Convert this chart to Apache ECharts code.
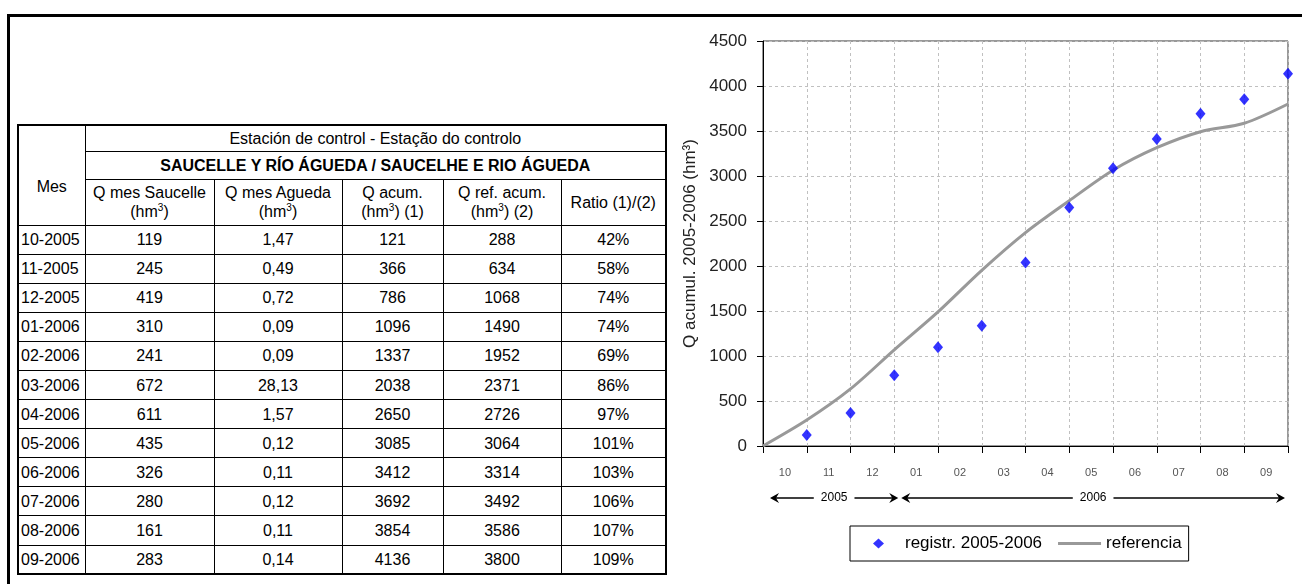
<!DOCTYPE html>
<html>
<head>
<meta charset="utf-8">
<script src="https://cdn.jsdelivr.net/npm/echarts@6.0.0/dist/echarts.min.js"></script>
<style>
  html, body { margin:0; padding:0; background:#fff; width:1302px; height:584px; overflow:hidden; }
  #chart { position:absolute; left:0; top:0; width:1302px; height:584px; }
  #frame { position:absolute; left:7px; top:14px; width:1400px; height:700px;
           border-top:3px solid #000; border-left:3px solid #000; pointer-events:none; }
  #tbl { position:absolute; left:17px; top:124px; width:648px; border-collapse:collapse;
         table-layout:fixed; border:2px solid #000; background:#fff;
         font-family:'Liberation Sans', Arial, sans-serif; font-size:16px; color:#000; z-index:2; }
  #tbl td { border:1px solid #000; padding:0; text-align:center; white-space:nowrap;
            line-height:19px; overflow:hidden; }
  #tbl td.m { text-align:left; padding-left:2px; }
  #tbl tr.d { height:29.1px; }
  #tbl sup { font-size:10px; line-height:0; vertical-align:6px; }
</style>
</head>
<body>
<div id="chart"></div>
<div id="frame"></div>
<table id="tbl"></table>
<script>
// ---- data ----
const months = ['10-2005','11-2005','12-2005','01-2006','02-2006','03-2006',
                '04-2006','05-2006','06-2006','07-2006','08-2006','09-2006'];
const qSaucelle = [119, 245, 419, 310, 241, 672, 611, 435, 326, 280, 161, 283];
const qAgueda = [1.47, 0.49, 0.72, 0.09, 0.09, 28.13, 1.57, 0.12, 0.11, 0.12, 0.11, 0.14];
const qAcum = [121, 366, 786, 1096, 1337, 2038, 2650, 3085, 3412, 3692, 3854, 4136];
const qRef = [288, 634, 1068, 1490, 1952, 2371, 2726, 3064, 3314, 3492, 3586, 3800];
const ratioPct = [42, 58, 74, 74, 69, 86, 97, 101, 103, 106, 107, 109];
const monthTicks = ['10','11','12','01','02','03','04','05','06','07','08','09'];
const refStart = 0;
const yMin = 0, yMax = 4500, yStep = 500;

// ---- table ----
const colW = [67, 129, 128, 101, 118, 105];
let html = '<colgroup>' + colW.map(w => '<col style="width:' + w + 'px">').join('') + '</colgroup>';
html += '<tr style="height:26px"><td rowspan="3" style="vertical-align:middle;padding-top:22px">Mes</td>' +
        '<td colspan="5">Estación de control - Estação do controlo</td></tr>';
html += '<tr style="height:28px"><td colspan="5" style="font-weight:bold">SAUCELLE Y RÍO ÁGUEDA / SAUCELHE E RIO ÁGUEDA</td></tr>';
html += '<tr style="height:46px">' +
        '<td>Q mes Saucelle<br>(hm<sup>3</sup>)</td>' +
        '<td>Q mes Agueda<br>(hm<sup>3</sup>)</td>' +
        '<td>Q acum.<br>(hm<sup>3</sup>) (1)</td>' +
        '<td>Q ref. acum.<br>(hm<sup>3</sup>) (2)</td>' +
        '<td>Ratio (1)/(2)</td></tr>';
months.forEach((m, i) => {
  html += '<tr class="d"><td class="m">' + m + '</td>' +
          '<td>' + qSaucelle[i] + '</td>' +
          '<td>' + qAgueda[i].toFixed(2).replace('.', ',') + '</td>' +
          '<td>' + qAcum[i] + '</td>' +
          '<td>' + qRef[i] + '</td>' +
          '<td>' + ratioPct[i] + '%</td></tr>';
});
document.getElementById('tbl').innerHTML = html;

// ---- chart ----
const FONT = "'Liberation Sans', Arial, sans-serif";
const chart = echarts.init(document.getElementById('chart'), null, { renderer: 'canvas' });
const gridLine = { show: true, lineStyle: { color: '#c0c0c0', type: [3, 3], width: 1 } };

const scatterData = qAcum.map((v, i) => [i + 1, v]);
const refData = [[0, refStart]].concat(qRef.map((v, i) => [i + 1, v]));

chart.setOption({
  animation: false,
  backgroundColor: 'transparent',
  grid: { left: 763, top: 41, right: 14, bottom: 138, show: true, borderColor: '#333', borderWidth: 1, containLabel: false },
  xAxis: [
    { type: 'value', min: 0, max: monthTicks.length, interval: 1,
      axisLine: { show: true, onZero: false, lineStyle: { color: '#000', width: 1 } },
      axisTick: { show: true, inside: false, length: 7, lineStyle: { color: '#000' } },
      axisLabel: { show: false },
      splitLine: gridLine },
    { type: 'category', data: monthTicks, boundaryGap: true, position: 'bottom',
      axisLine: { show: false }, axisTick: { show: false }, splitLine: { show: false },
      axisLabel: { show: true, margin: 21, fontSize: 11, color: '#555', fontFamily: FONT } }
  ],
  yAxis: {
    type: 'value', min: yMin, max: yMax, interval: yStep,
    name: 'Q acumul. 2005-2006 (hm³)', nameLocation: 'middle', nameGap: 64,
    nameTextStyle: { fontSize: 17, color: '#222', fontFamily: FONT },
    axisLine: { show: true, lineStyle: { color: '#000', width: 1 } },
    axisTick: { show: true, inside: false, length: 6, lineStyle: { color: '#000' } },
    axisLabel: { fontSize: 17, color: '#222', margin: 16, fontFamily: FONT, formatter: v => String(v) },
    splitLine: gridLine
  },
  legend: {
    data: [
      { name: 'registr. 2005-2006',
        icon: 'path://M0,0M21.5,0L27,5L21.5,10L16,5ZM43,10',
        itemStyle: { color: '#0000ff', borderWidth: 0 } },
      { name: 'referencia',
        icon: 'path://M0,0M0,3.5L43,3.5L43,6.5L0,6.5ZM43,10',
        itemStyle: { color: '#999999', borderWidth: 0 }, lineStyle: { width: 0 } }
    ],
    left: 850, top: 526, padding: [9, 7, 9, 7], itemWidth: 43, itemHeight: 10, itemGap: 16,
    borderColor: '#000', borderWidth: 1, backgroundColor: '#fff',
    textStyle: { fontSize: 17, color: '#000', fontFamily: FONT }
  },
  series: [
    { name: 'referencia', type: 'line', data: refData, smooth: 0.3, symbol: 'none',
      lineStyle: { color: '#999999', width: 3 }, itemStyle: { color: '#999999' }, z: 2 },
    { name: 'registr. 2005-2006', type: 'scatter', data: scatterData, symbol: 'diamond',
      symbolSize: [10, 12], itemStyle: { color: '#0000ff' }, z: 3 }
  ]
});

// ---- year arrows under the month labels (derived from months) ----
const groups = [];
months.forEach((m, i) => {
  const y = m.split('-')[1];
  if (!groups.length || groups[groups.length - 1].year !== y) groups.push({ year: y, start: i, end: i + 1 });
  else groups[groups.length - 1].end = i + 1;
});
const px = v => chart.convertToPixel({ xAxisIndex: 0 }, v);
const yArr = 498;
const els = [];
const last = px(monthTicks.length);
groups.forEach(g => {
  const xl = px(g.start) + 7;
  const xr = Math.min(px(g.end) + 4, last - 3);
  els.push({ type: 'line', shape: { x1: xl + 4, y1: yArr, x2: xr - 4, y2: yArr },
             style: { stroke: '#000', lineWidth: 1.5 }, z: 5 });
  els.push({ type: 'polygon', shape: { points: [[xl, yArr], [xl + 9, yArr - 5], [xl + 6, yArr], [xl + 9, yArr + 5]] },
             style: { fill: '#000' }, z: 6 });
  els.push({ type: 'polygon', shape: { points: [[xr, yArr], [xr - 9, yArr - 5], [xr - 6, yArr], [xr - 9, yArr + 5]] },
             style: { fill: '#000' }, z: 6 });
  els.push({ type: 'text', x: (xl + xr) / 2, y: yArr,
             style: { text: g.year, align: 'center', verticalAlign: 'middle', fontSize: 12,
                      fontFamily: FONT, fill: '#000', backgroundColor: '#fff', padding: [0, 7] }, z: 10 });
});
chart.setOption({ graphic: { elements: els } });
</script>
</body>
</html>
